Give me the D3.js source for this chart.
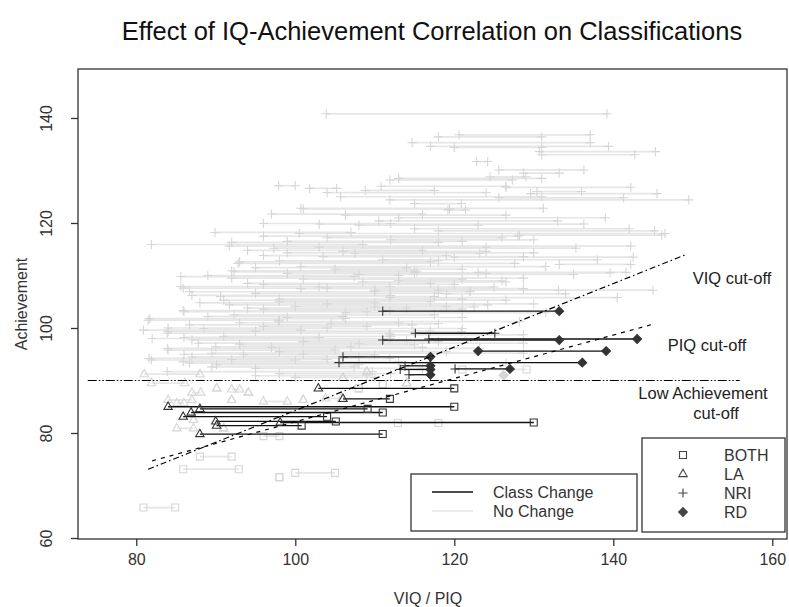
<!DOCTYPE html>
<html><head><meta charset="utf-8">
<script src="https://cdn.jsdelivr.net/npm/d3@7/dist/d3.min.js"></script>
<style>body{margin:0;background:#fff}svg{display:block;font-family:"Liberation Sans",Arial,sans-serif}</style>
</head><body><svg id="c" width="789" height="607"></svg>
<script>
// ---- tick labels ----
const xTicks = [80, 100, 120, 140, 160];
const yTicks = [60, 80, 100, 120, 140];

// ---- no-change pairs: [achievement, IQ at one end, IQ at other end] ----
const noChangeNRI = [
 [140.8,103.9,139.2],[136.8,120.6,137.1],[136.4,118.0,131.0],[135.3,114.7,137.1],[134.6,117.0,139.4],[134.4,120.0,131.0],
 [133.6,130.7,145.3],[133.0,131.0,142.7],[131.7,122.8,124.2],[130.1,125.6,136.3],[129.5,128.7,133.2],
 [128.8,124.5,129.0],[128.5,113.0,131.0],[128.2,111.9,127.3],[127.1,97.9,100.0],[127.0,110.8,126.5],[126.8,126.5,142.2],
 [126.6,101.8,105.2],[126.2,108.8,117.5],[126.0,130.4,136.0],[125.8,104.0,124.0],[125.6,129.6,145.5],[125.0,105.7,131.0],
 [124.8,125.6,141.3],[124.4,111.9,149.5],[123.7,115.0,120.9],[122.8,100.7,131.2],[122.7,101.0,119.4],
 [122.5,119.2,121.4],[121.7,97.0,116.0],[121.5,106.3,126.5],[121.0,113.0,139.0],[120.4,110.5,133.0],[119.9,96.0,112.0],
 [119.8,103.0,136.3],[119.6,108.0,123.0],[118.9,115.0,142.0],[118.5,118.0,145.2],[118.2,89.9,107.0],
 [118.0,100.5,146.5],[117.7,128.2,146.1],[117.5,96.0,128.0],[117.2,104.0,126.0],[116.8,112.0,130.0],[116.5,99.0,121.0],[116.3,92.0,118.0],
 [115.9,81.9,108.5],[115.6,91.7,142.2],[115.4,103.0,124.0],[115.2,97.3,135.3],[114.8,94.0,116.0],[114.6,106.0,124.0],[114.3,99.0,130.0],[114.2,107.5,123.2],
 [113.8,96.0,119.0],[113.6,103.5,128.7],[113.5,120.0,142.5],[113.0,111.0,138.0],[112.8,98.0,118.0],[112.6,93.0,117.0],[112.3,92.8,127.6],
 [112.1,133.2,142.2],[111.7,100.7,131.5],[111.5,95.0,114.0],[111.2,105.0,121.0],[110.9,92.0,115.0],[110.7,92.3,115.3],
 [110.6,123.0,141.6],[110.5,115.0,139.6],[110.4,99.0,124.0],[110.2,108.0,135.0],[110.0,89.0,113.0],[109.8,85.6,107.4],[109.5,92.0,128.7],
 [109.3,101.0,121.0],[109.0,113.0,126.0],[108.8,108.5,126.5],[108.5,94.0,117.0],[108.3,96.0,120.0],[107.9,85.6,111.9],[107.8,103.0,125.0],[107.6,85.9,104.0],
 [107.5,100.7,128.7],[107.2,118.0,145.0],[107.2,110.0,133.1],[107.0,110.0,122.0],[106.9,86.7,122.0],[106.6,95.0,118.0],
 [106.5,119.0,134.0],[106.2,87.0,112.0],[106.0,90.6,117.5],[105.8,111.9,140.5],[105.5,98.0,121.0],[105.3,91.0,126.5],
 [105.0,98.0,117.0],[104.8,88.0,110.0],[104.6,104.0,130.0],[104.4,91.7,124.2],[104.1,100.0,119.0],[104.0,110.0,122.5],[103.8,94.0,114.0],[103.6,96.0,121.0],
 [103.3,85.9,111.9],[103.1,86.0,109.0],[102.9,106.3,131.5],[102.5,92.3,117.5],[102.2,89.0,106.0],[102.0,99.0,121.0],
 [101.8,81.7,106.3],[101.5,81.5,98.0],[101.2,97.9,128.2],[101.0,93.0,113.0],[100.8,104.5,118.0],[100.6,86.7,114.7],
 [100.3,96.0,109.0],[100.0,84.0,104.0],[99.9,88.5,121.0],[99.6,80.9,100.7],[99.4,95.0,117.0],[99.3,84.0,120.9],[99.0,83.9,111.9],
 [98.7,111.9,128.7],[98.4,91.0,112.0],[98.2,86.0,103.0],[98.0,82.0,111.9],[97.7,87.0,114.0],[97.4,101.0,118.0],
 [97.1,87.8,128.7],[97.0,93.0,108.0],[96.8,93.0,115.0],[96.4,90.0,107.0],[96.3,97.0,116.0],[96.1,83.9,123.2],[95.8,84.0,105.0],
 [95.5,98.0,119.0],[95.2,89.5,128.7],[95.0,86.0,101.0],[94.9,93.5,110.0],[94.5,87.0,108.0],[94.2,81.6,111.9],[94.0,92.0,104.0],
 [93.9,81.9,100.0],[93.6,85.9,113.0],[93.3,86.7,126.5],[93.0,90.1,108.0],[92.6,89.5,107.4],
 [92.3,95.0,116.0],[91.7,83.9,109.7],[91.3,98.0,112.0],[90.9,95.0,109.0],[90.6,100.0,110.0]
];
const noChangeLA = [
 [91.2,81.0,88.0],[89.5,81.9,86.1],[88.5,90.1,90.1],[88.3,92.0,93.0],[87.7,87.0,88.1],
 [87.7,94.1,94.1],[86.3,84.0,87.0],[85.7,85.1,86.0],[86.3,92.0,92.0],[86.0,96.0,99.0],
 [86.3,101.0,101.0],[80.9,85.1,87.2],[82.5,87.2,87.2],[80.9,91.0,91.0],[86.6,103.8,105.8],
 [91.7,109.0,109.0],[90.5,106.0,106.0],[89.5,114.0,114.0]
];
const noChangeBOTH = [
 [65.8,80.9,84.9],[73.1,85.9,92.9],[75.5,88.0,92.0],[71.6,98.0,98.0],[72.4,100.0,105.0],
 [79.4,96.0,98.0],[81.9,112.9,118.0],[88.5,108.0,108.0],[89.3,111.0,111.0],[92.1,121.0,129.1]
];
const noChangeRD = [ [91.0,126.2,126.2] ];

// ---- class-change pairs: [achievement, IQ 1, IQ 2, class at IQ 1, class at IQ 2] ----
const classChange = [
 [103.2,111.0,133.2,"NRI","RD"],[99.0,115.1,125.1,"NRI","NRI"],[97.7,111.0,133.2,"NRI","RD"],
 [97.9,116.8,143.0,"NRI","RD"],[95.6,123.0,139.1,"RD","RD"],[94.5,106.0,117.0,"NRI","RD"],
 [93.4,105.5,136.1,"NRI","RD"],[92.2,120.1,127.0,"NRI","RD"],[92.8,113.8,117.0,"NRI","RD"],
 [92.1,113.2,117.0,"NRI","RD"],[91.1,114.3,117.0,"NRI","RD"],
 [88.5,102.9,120.0,"LA","BOTH"],[86.5,106.0,111.9,"LA","BOTH"],[85.0,84.0,120.0,"LA","BOTH"],
 [84.6,88.0,109.1,"LA","BOTH"],[83.9,86.9,111.0,"LA","BOTH"],[83.1,85.9,104.0,"LA","BOTH"],
 [82.2,90.0,105.1,"LA","BOTH"],[82.0,98.1,130.0,"LA","BOTH"],[81.4,90.1,100.8,"LA","BOTH"],
 [79.8,88.0,111.0,"LA","BOTH"]
];

// ---- cut-off lines: [IQ, achievement] end points ----
const viqCut = [[81.5,73.1],[149.0,113.9]];
const piqCut = [[82.0,74.7],[145.2,100.8]];
const laCut  = [[73.9,90.0],[155.9,90.0]];

const legendClasses = ["BOTH","LA","NRI","RD"];
const legendLines = ["Class Change","No Change"];

// ================= drawing =================
const svg = d3.select("#c");
const L=78, R=787, T=69, B=539;
const x = d3.scaleLinear().domain([72.67,161.85]).range([L,R]);
const y = d3.scaleLinear().domain([59.81,149.33]).range([B,T]);

const GREY_LINE="#e6e6e6", GREY_MARK="#d6d6d6", DARK="#111", DARK_MARK="#333";

function symPath(c){
  if(c==="BOTH") return "M-3.5,-3.5H3.5V3.5H-3.5Z";
  if(c==="LA")   return "M0,-4.8L4.2,2.6L-4.2,2.6Z";
  if(c==="NRI")  return "M-4.6,0H4.6M0,-4.6V4.6";
  return "M0,-4.4L4.4,0L0,4.4L-4.4,0Z";
}
function drawMark(g,c,cx,cy,col){
  g.append("path").attr("d",symPath(c)).attr("transform",`translate(${cx},${cy})`)
   .attr("fill",c==="RD"?col:"none").attr("stroke",col).attr("stroke-width",1.1);
}

const gData = svg.append("g");
const groups = [["NRI",noChangeNRI],["LA",noChangeLA],["BOTH",noChangeBOTH],["RD",noChangeRD]];
groups.forEach(([c,arr])=>{
  gData.selectAll(null).data(arr).enter().append("line")
   .attr("x1",d=>x(d[1])).attr("x2",d=>x(d[2])).attr("y1",d=>y(d[0])).attr("y2",d=>y(d[0]))
   .attr("stroke",GREY_LINE).attr("stroke-width",1.7);
});
groups.forEach(([c,arr])=>{
  arr.forEach(d=>{ drawMark(gData,c,x(d[1]),y(d[0]),GREY_MARK); drawMark(gData,c,x(d[2]),y(d[0]),GREY_MARK); });
});
gData.selectAll(null).data(classChange).enter().append("line")
  .attr("x1",d=>x(d[1])).attr("x2",d=>x(d[2])).attr("y1",d=>y(d[0])).attr("y2",d=>y(d[0]))
  .attr("stroke",DARK).attr("stroke-width",1.3);
classChange.forEach(d=>{ drawMark(gData,d[3],x(d[1]),y(d[0]),DARK_MARK); drawMark(gData,d[4],x(d[2]),y(d[0]),DARK_MARK); });

const ln = d3.line().x(d=>x(d[0])).y(d=>y(d[1]));
svg.append("path").attr("d",ln(viqCut)).attr("stroke","#000").attr("stroke-width",1.2).attr("fill","none").attr("stroke-dasharray","6,3,1.5,3");
svg.append("path").attr("d",ln(piqCut)).attr("stroke","#000").attr("stroke-width",1.2).attr("fill","none").attr("stroke-dasharray","4,5");
svg.append("path").attr("d",ln(laCut)).attr("stroke","#000").attr("stroke-width",1.2).attr("fill","none").attr("stroke-dasharray","9,2,1.5,2,1.5,2");

svg.append("rect").attr("x",L).attr("y",T).attr("width",R-L).attr("height",B-T)
  .attr("fill","none").attr("stroke","#333").attr("stroke-width",1.3);

const ax = svg.append("g").attr("transform",`translate(0,${B})`)
  .call(d3.axisBottom(x).tickValues(xTicks).tickSize(7).tickPadding(8).tickFormat(d3.format("d")));
const ay = svg.append("g").attr("transform",`translate(${L},0)`)
  .call(d3.axisLeft(y).tickValues(yTicks).tickSize(7).tickPadding(8).tickFormat(d3.format("d")));
[ax,ay].forEach(a=>{
  a.select(".domain").remove();
  a.selectAll(".tick line").attr("stroke","#333").attr("stroke-width",1.3);
  a.selectAll(".tick text").attr("font-size",16).attr("fill","#333").attr("font-family","Liberation Sans, Arial, sans-serif");
});
ay.selectAll(".tick text").attr("x",null).attr("dy",null).attr("text-anchor","middle")
  .attr("transform","translate(-26,0) rotate(-90)");

svg.append("text").attr("x",432).attr("y",40).attr("text-anchor","middle").attr("font-size",25.5).attr("fill","#111")
  .text("Effect of IQ-Achievement Correlation on Classifications");
svg.append("text").attr("x",428).attr("y",604).attr("text-anchor","middle").attr("font-size",16).attr("fill","#333").text("VIQ / PIQ");
svg.append("text").attr("transform","translate(27,304) rotate(-90)").attr("text-anchor","middle").attr("font-size",16).attr("fill","#333").text("Achievement");

const lab = (t,cx,by)=>svg.append("text").attr("x",cx).attr("y",by).attr("text-anchor","middle").attr("font-size",16.5).attr("fill","#222").text(t);
lab("VIQ cut-off",732,284);
lab("PIQ cut-off",707,351);
lab("Low Achievement",703,399);
lab("cut-off",716,419);

svg.append("rect").attr("x",411).attr("y",474).attr("width",226).attr("height",57).attr("fill","#fff").attr("stroke","#333").attr("stroke-width",1.3);
legendLines.forEach((t,i)=>{
  const yy=492+i*19;
  svg.append("line").attr("x1",432).attr("x2",473).attr("y1",yy).attr("y2",yy)
    .attr("stroke",i===0?DARK:GREY_LINE).attr("stroke-width",1.3);
  svg.append("text").attr("x",493).attr("y",yy+6).attr("font-size",16).attr("fill","#333").text(t);
});
svg.append("rect").attr("x",642).attr("y",438).attr("width",143).attr("height",94).attr("fill","#fff").attr("stroke","#333").attr("stroke-width",1.3);
legendClasses.forEach((c,i)=>{
  const yy=455+i*19;
  drawMark(svg,c,683,yy,"#444");
  svg.append("text").attr("x",724).attr("y",yy+6).attr("font-size",16).attr("fill","#333").text(c);
});
</script></body></html>
